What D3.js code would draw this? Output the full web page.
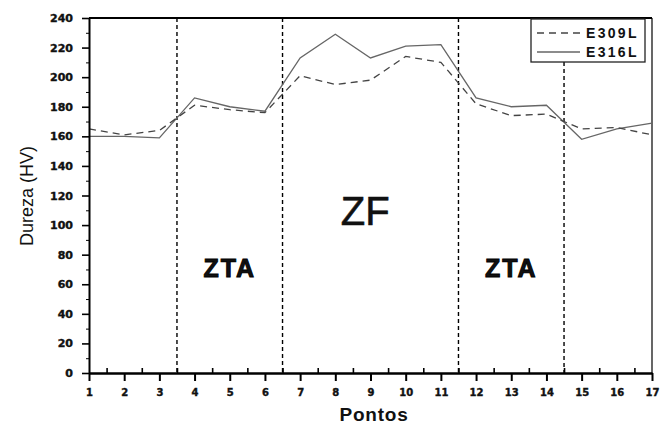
<!DOCTYPE html>
<html>
<head>
<meta charset="utf-8">
<script src="https://cdn.jsdelivr.net/npm/d3@7"></script>
<style>
  body { margin: 0; background: #fff; }
  svg text { font-family: "Liberation Sans", Arial, sans-serif; fill: #111; }
</style>
</head>
<body>
<div class="chart"></div>
<script>
// data
const pontos = [1, 2, 3, 4, 5, 6, 7, 8, 9, 10, 11, 12, 13, 14, 15, 16, 17];
const e309L = [165, 161, 164, 181, 178, 176, 201, 195, 198, 214, 210, 182, 174, 175, 165, 166, 161];
const e316L = [160, 160, 159, 186, 180, 177, 213, 229, 213, 221, 222, 186, 180, 181, 158, 165, 169];
const zoneBounds = [3.5, 6.5, 11.5, 14.5];
const zoneLabels = [
  {text: "ZTA", x: 5, y: 70, size: 25},
  {text: "ZF", x: 8.85, y: 100, size: 40},
  {text: "ZTA", x: 13, y: 70, size: 25}
];
const yTicks = d3.range(0, 241, 20);

const svg = d3.select(".chart")
              .append("svg")
              .attr("width", 666)
              .attr("height", 425);

const x = d3.scaleLinear()
            .domain([1, 17])
            .range([89, 652]);

const y = d3.scaleLinear()
            .domain([0, 240])
            .range([373, 18]);

// frame top and right
svg.append("line")
   .attr("x1", x(1)).attr("x2", x(17))
   .attr("y1", y(240)).attr("y2", y(240))
   .attr("stroke", "#000").attr("stroke-width", 2);
svg.append("line")
   .attr("x1", x(17)).attr("x2", x(17))
   .attr("y1", y(240)).attr("y2", y(0))
   .attr("stroke", "#000").attr("stroke-width", 1.2);

// zone boundaries
svg.selectAll(".zone")
   .data(zoneBounds).enter()
   .append("line")
   .attr("class", "zone")
   .attr("x1", d => x(d)).attr("x2", d => x(d))
   .attr("y1", d => d == 14.5 ? 62 : y(240))
   .attr("y2", y(0))
   .attr("stroke", "#000")
   .attr("stroke-width", 1.4)
   .attr("stroke-dasharray", "4,3");

// zone labels
svg.selectAll(".zlabel")
   .data(zoneLabels).enter()
   .append("text")
   .attr("class", "zlabel")
   .attr("x", d => x(d.x))
   .attr("y", d => y(d.y) + (d.size == 40 ? 0 : 8))
   .attr("text-anchor", "middle")
   .attr("font-size", d => d.size)
   .attr("font-weight", d => d.size == 40 ? "normal" : "bold")
   .attr("stroke", d => d.size == 40 ? "#111" : "#000")
   .attr("stroke-width", d => d.size == 40 ? 0.6 : 0.9)
   .style("letter-spacing", d => d.size == 40 ? "0px" : "2px")
   .text(d => d.text);

// series
const line = d3.line()
               .x((d, i) => x(pontos[i]))
               .y(d => y(d));

svg.append("path")
   .datum(e316L)
   .attr("d", line)
   .attr("fill", "none")
   .attr("stroke", "#666")
   .attr("stroke-width", 1.3);

svg.append("path")
   .datum(e309L)
   .attr("d", line)
   .attr("fill", "none")
   .attr("stroke", "#444")
   .attr("stroke-width", 1.3)
   .attr("stroke-dasharray", "7,5");

// axes
const yAxis = svg.append("g")
                 .attr("transform", "translate(" + x(1) + ",0)")
                 .call(d3.axisLeft(y).tickValues(d3.range(10, 240, 20)).tickSize(3).tickFormat(""));
yAxis.call(g => g.select(".domain").remove());

const yAxisMajor = svg.append("g")
                      .attr("transform", "translate(" + x(1) + ",0)")
                      .call(d3.axisLeft(y).tickValues(yTicks).tickSize(7).tickPadding(9).tickSizeOuter(0));
yAxisMajor.select(".domain").attr("stroke-width", 2);
yAxisMajor.selectAll(".tick line").attr("stroke-width", 1.6);
yAxisMajor.selectAll("text")
          .attr("font-size", 11)
          .attr("font-weight", "bold")
          .attr("stroke", "#111")
          .attr("stroke-width", 0.4)
          .style("font-family", "'DejaVu Sans', sans-serif");

const xAxisMinor = svg.append("g")
                      .attr("transform", "translate(0," + y(0) + ")")
                      .call(d3.axisTop(x).tickValues(d3.range(1.5, 17, 1)).tickSize(5).tickFormat(""));
xAxisMinor.select(".domain").remove();
xAxisMinor.selectAll(".tick line").attr("stroke-width", 1.6);

const xAxis = svg.append("g")
                 .attr("transform", "translate(0," + y(0) + ")")
                 .call(d3.axisBottom(x).tickValues(pontos).tickSize(8).tickPadding(8).tickSizeOuter(0).tickFormat(d3.format("d")));
xAxis.select(".domain").attr("stroke-width", 2.5);
xAxis.selectAll(".tick line").attr("stroke-width", 2);
xAxis.selectAll("text")
     .attr("font-size", 10)
     .attr("font-weight", "bold")
     .attr("stroke", "#111")
     .attr("stroke-width", 0.4)
     .style("font-family", "'DejaVu Sans', sans-serif");

// axis titles
svg.append("text")
   .attr("transform", "translate(33,196) rotate(-90)")
   .attr("text-anchor", "middle")
   .attr("font-size", 18)
   .text("Dureza (HV)");

svg.append("text")
   .attr("x", 374)
   .attr("y", 421)
   .attr("text-anchor", "middle")
   .attr("font-size", 19)
   .attr("font-weight", "bold")
   .style("letter-spacing", "0.8px")
   .text("Pontos");

// legend
const legend = svg.append("g");
legend.append("rect")
      .attr("x", 531).attr("y", 19)
      .attr("width", 114).attr("height", 43)
      .attr("fill", "#fff")
      .attr("stroke", "#222")
      .attr("stroke-width", 1.3);

const legendItems = [
  {name: "E309L", dash: "7,5", color: "#444"},
  {name: "E316L", dash: null, color: "#666"}
];
legendItems.forEach((d, i) => {
  const ly = 33 + i * 19;
  legend.append("line")
        .attr("x1", 537).attr("x2", 580)
        .attr("y1", ly).attr("y2", ly)
        .attr("stroke", d.color)
        .attr("stroke-width", 1.3)
        .attr("stroke-dasharray", d.dash);
  legend.append("text")
        .attr("x", 586).attr("y", ly + 5)
        .attr("font-size", 14)
        .attr("font-weight", "bold")
        .style("letter-spacing", "2.3px")
        .text(d.name);
});
</script>
</body>
</html>
